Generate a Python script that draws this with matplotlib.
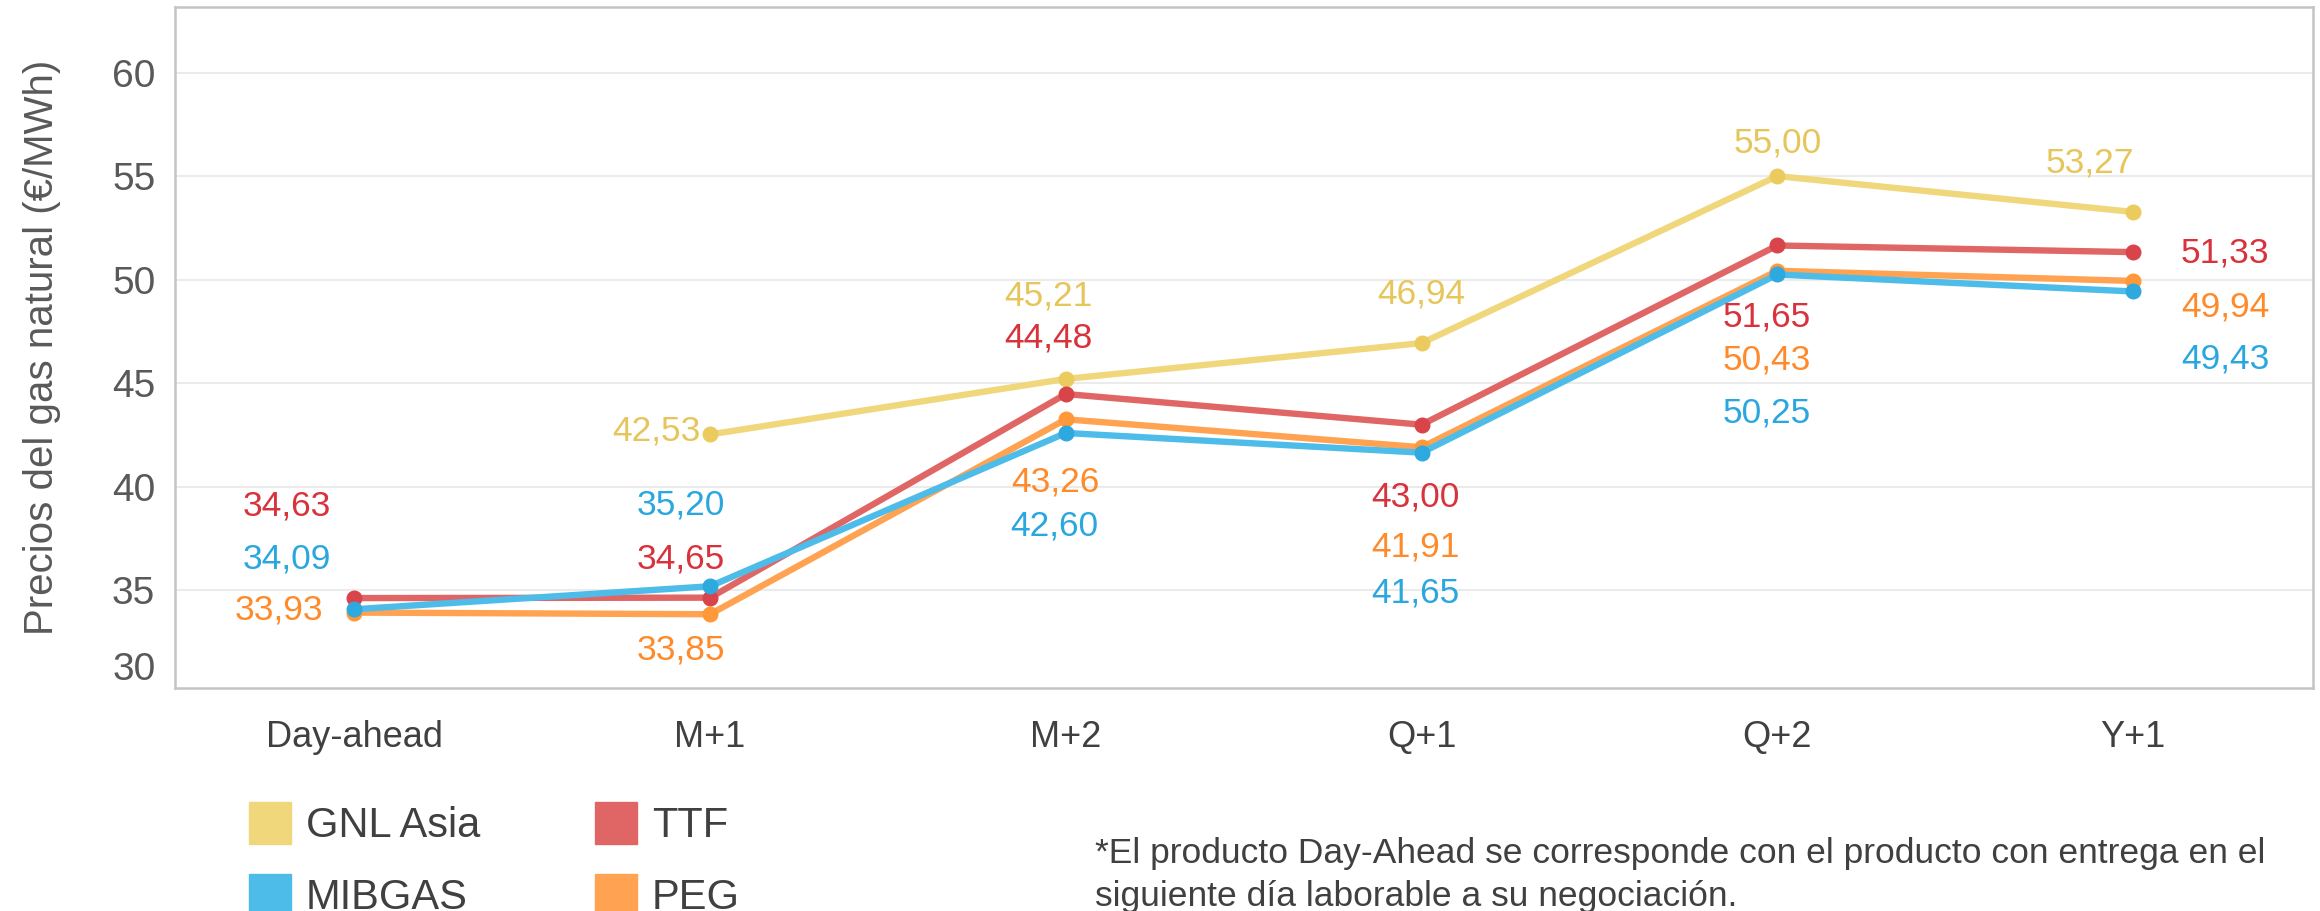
import matplotlib
matplotlib.use('Agg')
import matplotlib.pyplot as plt
import matplotlib.patches as mpatches

# data
categories = ['Day-ahead', 'M+1', 'M+2', 'Q+1', 'Q+2', 'Y+1']
gnl_asia = [None, 42.53, 45.21, 46.94, 55.00, 53.27]
ttf = [34.63, 34.65, 44.48, 43.00, 51.65, 51.33]
mibgas = [34.09, 35.20, 42.60, 41.65, 50.25, 49.43]
peg = [33.93, 33.85, 43.26, 41.91, 50.43, 49.94]
y_ticks = [35, 40, 45, 50, 55, 60]
y_bottom_label = '30'

# label offsets (pixels, dx, dy) per point
off_gnl = [None, (-54, 3), (-17, 83), (0, 49), (0, 33), (-43, 49)]
off_ttf = [(-68, 92), (-29, 39), (-17, 56), (-6, -72), (-11, -72), (92, -1)]
off_mib = [(-68, 50), (-29, 81), (-12, -93), (-6, -140), (-11, -139), (92, -68)]
off_peg = [(-75, 3), (-29, -36), (-10, -63), (-6, -100), (-11, -89), (92, -26)]

series = [
    ('GNL Asia', gnl_asia, '#F0D77C', '#EBCB5E', '#E6C55A', off_gnl),
    ('MIBGAS', mibgas, '#4DBCE9', '#2EA9DF', '#2AA7DF', off_mib),
    ('TTF', ttf, '#E06666', '#D9434A', '#D8323C', off_ttf),
    ('PEG', peg, '#FFA352', '#FF9838', '#FF8A2A', off_peg),
]
draw_order = ['GNL Asia', 'TTF', 'PEG', 'MIBGAS']

plt.rcParams['font.family'] = ['Liberation Sans', 'DejaVu Sans']

fig = plt.figure(figsize=(23.2, 9.11), dpi=100)
ax = fig.add_axes([0.0753, 0.2448, 0.9216, 0.747])

x = list(range(len(categories)))
for name in draw_order:
    s = [t for t in series if t[0] == name][0]
    _, vals, lc, mc, tc, offs = s
    xs = [i for i, v in zip(x, vals) if v is not None]
    ys = [v for v in vals if v is not None]
    ax.plot(xs, ys, color=lc, linewidth=4.6, marker='o', markersize=10.5,
            markerfacecolor=mc, markeredgecolor=mc, solid_capstyle='round', zorder=3)
    for i, v in enumerate(vals):
        if v is None:
            continue
        dx, dy = offs[i]
        ax.annotate(f'{v:.2f}'.replace('.', ','), (i, v), xytext=(dx, dy),
                    textcoords='offset pixels', ha='center', va='center',
                    fontsize=25.5, color=tc, zorder=4)

ax.set_xlim(-0.505, 5.505)
ax.set_ylim(30.29, 63.14)
ax.set_yticks(y_ticks)
ax.set_xticks(x)
ax.set_xticklabels(categories, fontsize=26, color='#404040')
ax.tick_params(axis='both', length=0)
ax.tick_params(axis='x', pad=23)
ax.tick_params(axis='y', pad=14, labelsize=28, labelcolor='#595959')
ax.grid(axis='y', color='#EBEBEB', linewidth=1.5)
ax.set_axisbelow(True)
for sp in ax.spines.values():
    sp.set_color('#C4C4C4')
    sp.set_linewidth(1.8)

# bottom label sits a little above the frame edge
ax.annotate(y_bottom_label, xy=(0, 0), xycoords='axes fraction', xytext=(-19, 22),
            textcoords='offset pixels', ha='right', va='center_baseline',
            fontsize=28, color='#595959')

ax.set_ylabel('Precios del gas natural (€/MWh)', fontsize=29, color='#595959')
ax.yaxis.set_label_coords(-0.0531, 0.5)

# legend
handles = [mpatches.Patch(color=s[2], label=s[0]) for s in series]
leg = fig.legend(handles=handles, loc='upper left', bbox_to_anchor=(0.1073, 0.12),
                 ncol=2, frameon=False, borderpad=0, borderaxespad=0,
                 handlelength=1.0, handleheight=1.2, handletextpad=0.36,
                 columnspacing=2.77, labelspacing=0.67, prop={'size': 30})
for t in leg.get_texts():
    t.set_color('#404040')

fig.text(0.472, 0.0814, '*El producto Day-Ahead se corresponde con el producto con entrega en el\n'
         'siguiente día laborable a su negociación.', ha='left', va='top',
         fontsize=25.5, color='#404040', linespacing=1.39)

fig.savefig('out.png', dpi=100)
